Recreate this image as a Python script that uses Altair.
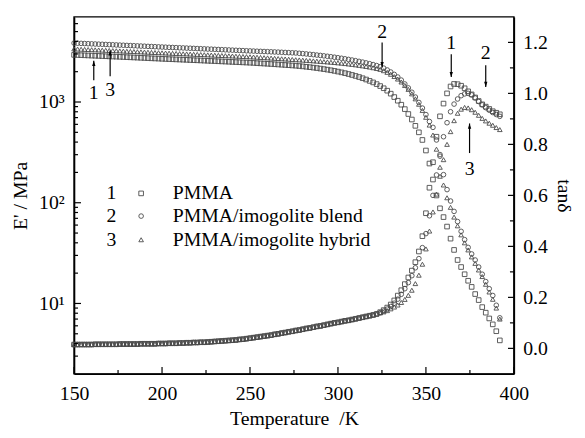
import altair as alt
import pandas as pd

# ---------------- data ----------------
T = list(range(150, 393, 2))  # temperature sweep, K

names = ["PMMA", "PMMA/imogolite blend", "PMMA/imogolite hybrid"]
nums = ["1", "2", "3"]
shapes = ["square", "circle", "triangle-up"]

# storage modulus E' (MPa)
E_PMMA = [2938, 2928, 2918, 2908, 2898, 2888, 2878, 2868, 2858, 2848,
          2838, 2828, 2818, 2808, 2798, 2788, 2778, 2768, 2758, 2747,
          2737, 2726, 2716, 2706, 2696, 2685,
          2676, 2667, 2658, 2649, 2640, 2630, 2621, 2612, 2603, 2594,
          2585, 2575, 2566, 2557, 2548, 2538, 2529, 2520, 2510, 2501,
          2492, 2483, 2473, 2464, 2455,
          2444, 2432, 2420, 2408, 2396, 2384, 2371, 2358, 2345, 2332, 2319, 2306, 2293,
          2276, 2258, 2238, 2217, 2195, 2172, 2148, 2122, 2095, 2066,
          2036, 2004, 1970, 1934, 1896, 1856, 1814, 1770, 1722,
          1672, 1620, 1565, 1505, 1440, 1370, 1295, 1210, 1120, 1030,
          940, 850, 760, 670, 580, 500, 420,
          330, 245, 170, 118, 88, 72, 58, 44, 34, 27,
          23, 19.5, 16.8, 14.6, 12.4, 10.8, 9.2, 8.1, 7.1, 6.2, 5.3, 4.3]

E_blend = [3846, 3833, 3820, 3806, 3793, 3780, 3766, 3752, 3740, 3726,
           3713, 3700, 3686, 3673, 3660, 3646, 3633, 3620, 3606, 3593,
           3580, 3567, 3554, 3540, 3527, 3514,
           3502, 3490, 3478, 3466, 3454, 3442, 3430, 3418, 3406, 3394,
           3382, 3370, 3358, 3346, 3334, 3322, 3310, 3298, 3286, 3274,
           3262, 3250, 3238, 3226, 3214,
           3204, 3193, 3182, 3172, 3161, 3150, 3139, 3128, 3116, 3104, 3092, 3080, 3068,
           3046, 3024, 3000, 2976, 2952, 2926, 2900, 2872, 2844, 2814, 2784, 2752,
           2718, 2684, 2648, 2610, 2572, 2532, 2490, 2446, 2400, 2352, 2300, 2245,
           2170, 2080, 1985, 1880, 1770, 1650,
           1510, 1380, 1250, 1120, 990, 870, 750, 640,
           560, 420, 290, 190, 135, 104, 82,
           65, 52, 43, 36, 31, 27, 23, 19.5, 16.5, 14, 12, 9.6, 7.2]

E_hybrid = [3365, 3353, 3342, 3330, 3319, 3307, 3296, 3284, 3272, 3261,
            3249, 3238, 3226, 3214, 3203, 3191, 3180, 3168, 3156, 3145,
            3133, 3122, 3110, 3099, 3087, 3076,
            3065, 3055, 3044, 3034, 3023, 3012, 3002, 2991, 2980, 2970,
            2959, 2948, 2938, 2927, 2916, 2906, 2895, 2884, 2874, 2863,
            2852, 2842, 2831, 2820, 2810,
            2797, 2784, 2771, 2757, 2743, 2729, 2715, 2701, 2687, 2673, 2659, 2645, 2630,
            2617, 2604, 2590, 2576, 2561, 2546, 2531, 2515, 2499, 2482, 2465, 2448,
            2428, 2407, 2385, 2362, 2338, 2312, 2284, 2254, 2222, 2188, 2150, 2110,
            2045, 1970, 1885, 1790, 1690, 1580,
            1460, 1335, 1205, 1075, 950, 825, 705, 590,
            470, 340, 225, 150, 112, 90, 72,
            59, 48, 40, 34, 29, 25, 21.5, 18.5, 15.5, 13, 11, 9, 7.0]

# loss factor tan delta: the three curves coincide up to ~322 K
tan_common = [0.015, 0.015, 0.015, 0.015, 0.015, 0.015, 0.016, 0.016, 0.016, 0.016,
              0.016, 0.016, 0.016, 0.017, 0.017, 0.017, 0.017, 0.017, 0.017, 0.018,
              0.018, 0.018, 0.018, 0.018, 0.019, 0.019, 0.019, 0.020, 0.020, 0.020,
              0.021, 0.021, 0.022, 0.022, 0.023, 0.023, 0.024, 0.024, 0.025, 0.026,
              0.027, 0.028, 0.029, 0.030, 0.031, 0.032, 0.033, 0.035, 0.036, 0.038,
              0.040, 0.042, 0.044, 0.046, 0.048, 0.050, 0.052, 0.055, 0.057, 0.060,
              0.062, 0.065, 0.067, 0.070, 0.072, 0.075, 0.078, 0.080, 0.083, 0.086,
              0.088, 0.091, 0.094, 0.097, 0.100, 0.102, 0.105, 0.108, 0.110, 0.113,
              0.116, 0.119, 0.122, 0.125, 0.128, 0.131, 0.135]

tan_PMMA = tan_common + [
    0.142, 0.150, 0.160, 0.172, 0.188, 0.207, 0.228, 0.252, 0.278, 0.305,
    0.338, 0.380, 0.440, 0.530, 0.630, 0.730, 0.830, 0.910, 0.960, 1.000,
    1.027, 1.037, 1.036, 1.030, 1.020, 1.008, 0.996, 0.984, 0.970, 0.957,
    0.948, 0.939, 0.930, 0.924, 0.918]

tan_blend = tan_common + [
    0.140, 0.146, 0.154, 0.164, 0.177, 0.193, 0.212, 0.234, 0.258, 0.285,
    0.316, 0.352, 0.395, 0.450, 0.520, 0.600, 0.680, 0.760, 0.830, 0.885,
    0.928, 0.958, 0.978, 0.991, 0.998, 1.000, 0.994, 0.982, 0.968, 0.955,
    0.944, 0.934, 0.925, 0.917, 0.910]

tan_hybrid = tan_common + [
    0.139, 0.143, 0.148, 0.155, 0.162, 0.170, 0.180, 0.192, 0.208, 0.228,
    0.254, 0.287, 0.330, 0.390, 0.460, 0.535, 0.605, 0.675, 0.740, 0.800,
    0.850, 0.893, 0.922, 0.938, 0.945, 0.943, 0.936, 0.926, 0.914, 0.902,
    0.892, 0.883, 0.875, 0.866, 0.858]

x_major = [150, 200, 250, 300, 350, 400]
x_minor = [175, 225, 275, 325, 375]
E_major = [10, 100, 1000]
E_minor = [3, 4, 5, 6, 7, 8, 9, 20, 30, 40, 50, 60, 70, 80, 90,
           200, 300, 400, 500, 600, 700, 800, 900, 2000, 3000, 4000, 5000, 6000]
tan_major = [0.0, 0.2, 0.4, 0.6, 0.8, 1.0, 1.2]
tan_minor = [0.1, 0.3, 0.5, 0.7, 0.9, 1.1]

# annotation arrows (label, T, text position, arrow tail, arrow tip)
E_notes = [("1", 161.2, 1240, 1640, 2570, "up"),
           ("3", 170.5, 1320, 1807, 3250, "up"),
           ("2", 325.1, 4890, 3900, 2220, "down")]
tan_notes = [("1", 364.4, 1.199, 1.153, 1.064, "down"),
             ("2", 384.0, 1.159, 1.110, 1.025, "down"),
             ("3", 374.8, 0.703, 0.766, 0.882, "up")]

# ---------------- build tables ----------------
rows = []
for name, Es, ts in zip(names, [E_PMMA, E_blend, E_hybrid], [tan_PMMA, tan_blend, tan_hybrid]):
    assert len(Es) == len(T) and len(ts) == len(T)
    for t, e, d in zip(T, Es, ts):
        rows.append({"T": t, "E": e, "tan": d, "sample": name})
df = pd.DataFrame(rows)

dfE = pd.DataFrame(E_notes, columns=["label", "T", "yt", "ya", "yb", "dir"])
dfT = pd.DataFrame(tan_notes, columns=["label", "T", "yt", "ya", "yb", "dir"])

FONT = "Liberation Serif"
INK = "#4a4a4a"
W, H = 446, 362
UP = "M0,0L-0.32,1L0.32,1Z"
DOWN = "M0,0L-0.32,-1L0.32,-1Z"

xscale = alt.Scale(domain=[150, 400], nice=False, zero=False)
Escale = alt.Scale(type="log", domain=[2, 7000], nice=False)
tscale = alt.Scale(domain=[-0.1, 1.3], nice=False, zero=False)

# the same x axis definition is given to every layer so the shared axis merges cleanly
xaxis = alt.Axis(values=x_major, title="Temperature\u2002/K", orient="bottom", ticks=False,
                 labelFlush=False, labelPadding=10, titlePadding=5, grid=False, labelOverlap=False)
Eaxis = alt.Axis(values=E_major, title="E' / MPa", orient="left", ticks=False,
                 labelExpr="datum.value == 10 ? '10\u00b9' : datum.value == 100 ? '10\u00b2' : '10\u00b3'",
                 labelFlush=False, labelPadding=10, titlePadding=8, grid=False, labelOverlap=False)
taxis = alt.Axis(values=tan_major, title="tan\u03b4", orient="right", ticks=False,
                 labelExpr="format(datum.value, '.1f')",
                 labelFlush=False, labelPadding=9, titlePadding=6, grid=False, labelOverlap=False)

shape_enc = alt.Shape("sample:N", scale=alt.Scale(domain=names, range=shapes), legend=None)


def xT(field="T"):
    return alt.X(f"{field}:Q", scale=xscale, axis=xaxis)


base = alt.Chart(df)
E_pts = base.mark_point(filled=False, size=22, strokeWidth=0.9, color=INK, opacity=1).encode(
    x=xT(), y=alt.Y("E:Q", scale=Escale, axis=Eaxis), shape=shape_enc)
tan_pts = base.mark_point(filled=False, size=22, strokeWidth=0.9, color=INK, opacity=1).encode(
    x=xT(), y=alt.Y("tan:Q", scale=tscale, axis=taxis), shape=shape_enc)


def notes(dfn, yscale):
    b = alt.Chart(dfn)
    shaft = b.mark_rule(color="black", strokeWidth=1.2).encode(
        x=xT(), y=alt.Y("ya:Q", scale=yscale, axis=None), y2="yb:Q")
    up = b.transform_filter("datum.dir == 'up'").mark_point(
        filled=True, color="black", size=110, opacity=1).encode(
        x=xT(), y=alt.Y("yb:Q", scale=yscale, axis=None), shape=alt.value(UP))
    down = b.transform_filter("datum.dir == 'down'").mark_point(
        filled=True, color="black", size=110, opacity=1).encode(
        x=xT(), y=alt.Y("yb:Q", scale=yscale, axis=None), shape=alt.value(DOWN))
    txt = b.mark_text(font=FONT, fontSize=20, color="black", baseline="middle").encode(
        x=xT(), y=alt.Y("yt:Q", scale=yscale, axis=None), text="label:N")
    return [shaft, up, down, txt]


# inward-pointing tick marks, placed through the scales
def xticks(vals, length):
    return alt.Chart(pd.DataFrame({"T": vals})).mark_rule(color="black", strokeWidth=1.2).encode(
        x=xT(), y=alt.value(H), y2=alt.value(H - length))


def yticks(vals, yscale, x0, x1):
    return alt.Chart(pd.DataFrame({"v": vals})).mark_rule(color="black", strokeWidth=1.2).encode(
        y=alt.Y("v:Q", scale=yscale, axis=None), x=alt.value(x0), x2=alt.value(x1))


ticks = [xticks(x_major, 7), xticks(x_minor, 4),
         yticks(E_major, Escale, 0, 7), yticks(E_minor, Escale, 0, 4),
         yticks(tan_major, tscale, W, W - 6), yticks(tan_minor, tscale, W, W - 4)]

# legend (drawn by hand to keep the "number  symbol  name" layout)
leg = []
leg_rows_y = [179, 202, 226]
one = pd.DataFrame([{"k": 0}])
for n, name, shp, yy in zip(nums, names, shapes, leg_rows_y):
    c = alt.Chart(one)
    leg.append(c.mark_text(font=FONT, fontSize=20, color="black", baseline="middle", align="center")
               .encode(x=alt.value(38), y=alt.value(yy), text=alt.value(n)))
    leg.append(c.mark_point(filled=False, size=22, strokeWidth=0.9, color=INK, opacity=1)
               .encode(x=alt.value(68), y=alt.value(yy), shape=alt.value(shp)))
    leg.append(c.mark_text(font=FONT, fontSize=20, color="black", baseline="middle", align="left")
               .encode(x=alt.value(100), y=alt.value(yy), text=alt.value(name)))

chart = alt.layer(E_pts, tan_pts, *notes(dfE, Escale), *notes(dfT, tscale), *ticks, *leg
                  ).resolve_scale(y="independent").properties(
    width=W, height=H,
    autosize=alt.AutoSizeParams(type="none"),
    padding={"left": 67, "top": 6, "right": 64, "bottom": 60},
    background="white",
).configure_view(stroke="black", strokeWidth=1.5).configure_axis(
    labelFont=FONT, labelFontSize=20, labelColor="black",
    titleFont=FONT, titleFontSize=20, titleFontWeight="normal", titleColor="black",
    domainColor="black", domainWidth=1.5,
)

chart.save("out.html", embed_options={"renderer": "svg", "actions": False})
